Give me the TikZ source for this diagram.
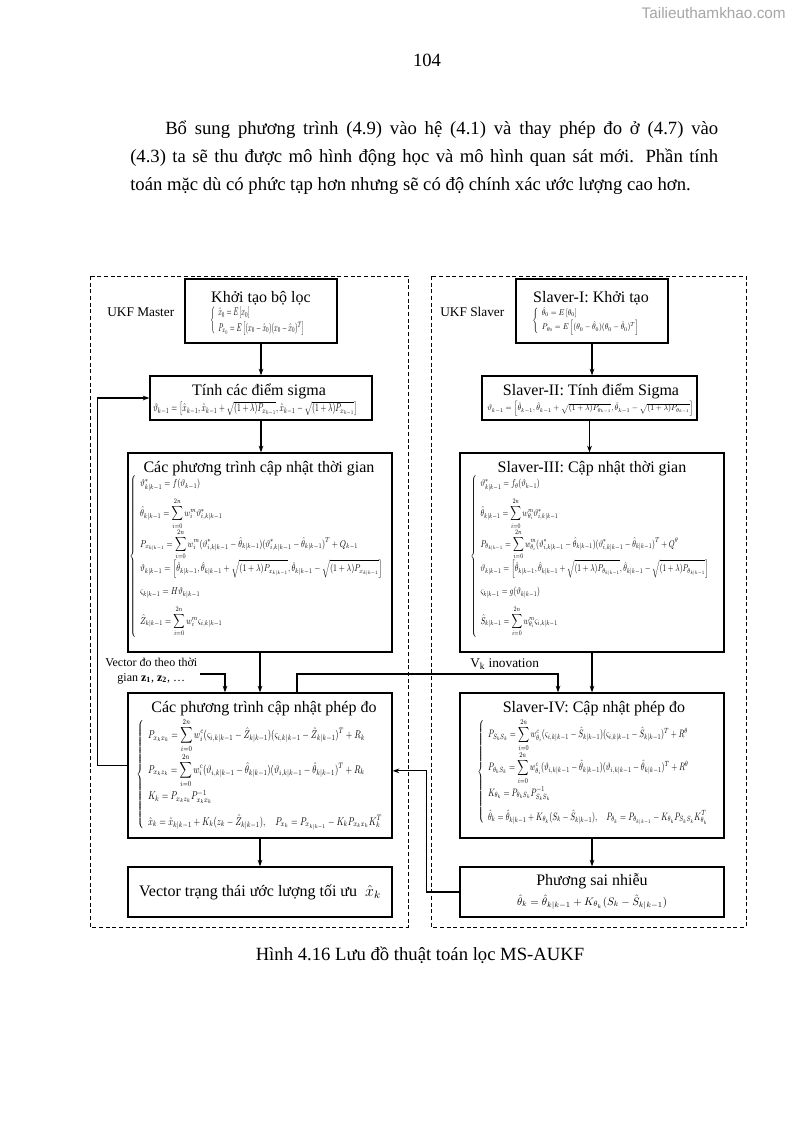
\documentclass[tikz,border=0pt]{standalone}
\usepackage{fontspec}
\setmainfont{Liberation Serif}
\newfontfamily\wmfont{Liberation Sans}
\usepackage{amsmath}
\usepackage{array}
\usepackage{graphicx}
\usetikzlibrary{positioning,fit,arrows.meta}
\newdimen\pxu \pxu=0.75pt
\newcommand\kkm{k|k-1}
\newcommand\dsum{\displaystyle\sum_{i=0}^{2n}}
\newcommand\eqbox[3]{\resizebox*{#1\pxu}{#2\pxu}{$#3$}}
\begin{document}
\begin{tikzpicture}[x=0.75pt, y=-0.75pt,
  box/.style={draw, line width=0.9pt, inner sep=0pt},
  ttl/.style={font=\fontsize{12}{14}\selectfont, inner sep=0pt, anchor=base},
  lbl/.style={font=\fontsize{10}{12}\selectfont, inner sep=0pt, anchor=base west},
  eqn/.style={inner sep=0pt, anchor=north west},
  body/.style={font=\fontsize{14}{21}\selectfont, inner sep=0pt},
  arr/.style={-{Stealth[length=5pt,width=3.5pt]}, line width=0.8pt},
  outer/.style={dash pattern=on 3pt off 2pt, line width=0.6pt}]
\fill[white] (0,0) rectangle (794,1123);
\useasboundingbox (0,0) rectangle (794,1123);

% page text
\node[font=\wmfont\fontsize{11.5}{13}\selectfont, text=gray!70, inner sep=0pt, anchor=base east] (wm) at (786,19) {Tailieuthamkhao.com};
\node[body, anchor=base] (pno) at (427,67) {104};
\node[body, anchor=north west, text width=588*0.75pt, align=justify] (para) at (130,121)
  {\parfillskip=0pt\hspace*{35\pxu}Bổ sung phương trình (4.9) vào hệ (4.1) và thay phép đo ở (4.7) vào\linebreak
   (4.3) ta sẽ thu được mô hình động học và mô hình quan sát mới. Phần tính\linebreak
   toán mặc dù có phức tạp hơn nhưng sẽ có độ chính xác ước lượng cao hơn.};

% khung UKF Master / UKF Slaver
\draw[outer] (90,276) rectangle (408,927);
\draw[outer] (431,276) rectangle (746,927);
\node[lbl] (mst) at (107,316) {UKF Master};
\node[lbl] (slv) at (440,316) {UKF Slaver};

% cot trai
\node[box, fit={(185,279) (337,343)}] (init) {};
\node[ttl] (initT) at (261,302) {Khởi tạo bộ lọc};
\node[eqn] (initE) at (210,306) {\eqbox{98}{29}{\left\{\begin{array}{l}\hat{x}_0=E\left[x_0\right]\\[2pt] P_{x_0}=E\left[(x_0-\hat{x}_0)(x_0-\hat{x}_0)^T\right]\end{array}\right.}};

\node[box, fit={(150,376) (372,420)}] (sig) {};
\node[ttl] (sigT) at (259,395) {Tính các điểm sigma};
\node[eqn] (sigE) at (153,401) {\eqbox{204}{14}{\vartheta_{k-1}=\left[\hat{x}_{k-1},\hat{x}_{k-1}+\sqrt{(1+\lambda)P_{x_{k-1}}},\hat{x}_{k-1}-\sqrt{(1+\lambda)P_{x_{k-1}}}\right]}};

\node[box, fit={(128,453) (392,652)}] (upd) {};
\node[ttl] (updT) at (259,472) {Các phương trình cập nhật thời gian};
\node[eqn] (updE) at (129,475) {\eqbox{258}{162}{\left\{\renewcommand\arraystretch{1.3}\begin{array}{>{\displaystyle}l}
  \vartheta^{*}_{\kkm}=f(\vartheta_{k-1})\\[7pt]
  \hat{\theta}_{\kkm}=\dsum w_i^m\vartheta^{*}_{i,\kkm}\\[7pt]
  P_{x_{\kkm}}=\dsum w_i^m(\vartheta^{*}_{i,\kkm}-\hat{\theta}_{\kkm})(\vartheta^{*}_{i,\kkm}-\hat{\theta}_{\kkm})^T+Q_{k-1}\\[7pt]
  \vartheta_{\kkm}=\left[\hat{\theta}_{\kkm},\hat{\theta}_{\kkm}+\sqrt{(1+\lambda)P_{x_{\kkm}}},\hat{\theta}_{\kkm}-\sqrt{(1+\lambda)P_{x_{\kkm}}}\right]\\[7pt]
  \varsigma_{\kkm}=H\vartheta_{\kkm}\\[7pt]
  \hat{Z}_{\kkm}=\dsum w_i^m\varsigma_{i,\kkm}
  \end{array}\right.}};

\node[box, fit={(128,693) (392,838)}] (meas) {};
\node[ttl] (measT) at (264,712) {Các phương trình cập nhật phép đo};
\node[eqn] (measE) at (136,718) {\eqbox{251}{112}{\left\{\renewcommand\arraystretch{1.3}\begin{array}{>{\displaystyle}l}
  P_{x_kx_k}=\dsum w_i^c(\varsigma_{i,\kkm}-\hat{Z}_{\kkm})(\varsigma_{i,\kkm}-\hat{Z}_{\kkm})^T+R_k\\[7pt]
  P_{x_kz_k}=\dsum w_i^c(\vartheta_{i,\kkm}-\hat{\theta}_{\kkm})(\vartheta_{i,\kkm}-\hat{\theta}_{\kkm})^T+R_k\\[7pt]
  K_k=P_{x_kz_k}P^{-1}_{x_kx_k}\\[7pt]
  \hat{x}_k=\hat{x}_{\kkm}+K_k(z_k-\hat{Z}_{\kkm}),\quad P_{x_k}=P_{x_{\kkm}}-K_kP_{x_kx_k}K_k^T
  \end{array}\right.}};

\node[box, fit={(128,867) (392,917)}] (vect) {};
\node[ttl] (vectT) at (260,896) {Vector trạng thái ước lượng tối ưu\ \ $\hat{x}_k$};

% cot phai
\node[box, fit={(516,279) (668,343)}] (sinit) {};
\node[ttl] (sinitT) at (591,302) {Slaver-I: Khởi tạo};
\node[eqn] (sinitE) at (532,307) {\eqbox{111}{28}{\left\{\begin{array}{l}\hat{\theta}_0=E\left[\theta_0\right]\\[2pt] P_{\theta_0}=E\left[(\theta_0-\hat{\theta}_0)(\theta_0-\hat{\theta}_0)^T\right]\end{array}\right.}};

\node[box, fit={(482,376) (697,420)}] (ssig) {};
\node[ttl] (ssigT) at (591,395) {Slaver-II: Tính điểm Sigma};
\node[eqn] (ssigE) at (487,401) {\eqbox{206}{15}{\vartheta_{k-1}=\left[\hat{\theta}_{k-1},\hat{\theta}_{k-1}+\sqrt{(1+\lambda)P_{\theta_{k-1}}},\hat{\theta}_{k-1}-\sqrt{(1+\lambda)P_{\theta_{k-1}}}\right]}};

\node[box, fit={(460,453) (724,652)}] (supd) {};
\node[ttl] (supdT) at (592,472) {Slaver-III: Cập nhật thời gian};
\node[eqn] (supdE) at (470,475) {\eqbox{243}{162}{\left\{\renewcommand\arraystretch{1.3}\begin{array}{>{\displaystyle}l}
  \vartheta^{*}_{\kkm}=f_{\theta}(\vartheta_{k-1})\\[7pt]
  \hat{\theta}_{\kkm}=\dsum w_{\theta_i}^m\vartheta^{*}_{i,\kkm}\\[7pt]
  P_{\theta_{\kkm}}=\dsum w_{\theta_i}^m(\vartheta^{*}_{i,\kkm}-\hat{\theta}_{\kkm})(\vartheta^{*}_{i,\kkm}-\hat{\theta}_{\kkm})^T+Q^{\theta}\\[7pt]
  \vartheta_{\kkm}=\left[\hat{\theta}_{\kkm},\hat{\theta}_{\kkm}+\sqrt{(1+\lambda)P_{\theta_{\kkm}}},\hat{\theta}_{\kkm}-\sqrt{(1+\lambda)P_{\theta_{\kkm}}}\right]\\[7pt]
  \varsigma_{\kkm}=g(\vartheta_{\kkm})\\[7pt]
  \hat{S}_{\kkm}=\dsum w_{\theta_i}^m\varsigma_{i,\kkm}
  \end{array}\right.}};

\node[box, fit={(460,693) (724,838)}] (smeas) {};
\node[ttl] (smeasT) at (594,712) {Slaver-IV: Cập nhật phép đo};
\node[eqn] (smeasE) at (477,718) {\eqbox{235}{107}{\left\{\renewcommand\arraystretch{1.3}\begin{array}{>{\displaystyle}l}
  P_{S_kS_k}=\dsum w^c_{\theta_i}(\varsigma_{i,\kkm}-\hat{S}_{\kkm})(\varsigma_{i,\kkm}-\hat{S}_{\kkm})^T+R^{\theta}\\[7pt]
  P_{\theta_kS_k}=\dsum w^c_{\theta_i}(\vartheta_{i,\kkm}-\hat{\theta}_{\kkm})(\vartheta_{i,\kkm}-\hat{\theta}_{\kkm})^T+R^{\theta}\\[7pt]
  K_{\theta_k}=P_{\theta_kS_k}P^{-1}_{S_kS_k}\\[7pt]
  \hat{\theta}_k=\hat{\theta}_{\kkm}+K_{\theta_k}(S_k-\hat{S}_{\kkm}),\quad P_{\theta_k}=P_{\theta_{\kkm}}-K_{\theta_k}P_{S_kS_k}K^T_{\theta_k}
  \end{array}\right.}};

\node[box, fit={(460,867) (724,917)}] (noise) {};
\node[ttl] (noiseT) at (592,885) {Phương sai nhiễu};
\node[inner sep=0pt] (noiseE) at (592,902) {\resizebox{150\pxu}{!}{$\hat{\theta}_k=\hat{\theta}_{\kkm}+K_{\theta_k}(S_k-\hat{S}_{\kkm})$}};

% nhan
\node[font=\fontsize{9}{11.25}\selectfont, inner sep=0pt, align=center, anchor=north west] (zlbl) at (105,658)
  {Vector đo theo thời\\ gian $\mathbf{z_1}$, $\mathbf{z_2}$, \dots};
\node[lbl] (vk) at (470,667) {V$_\mathrm{k}$ inovation};

% mui ten
\draw[arr] (init.south) -- (init.south |- sig.north);
\draw[arr] (sig.south) -- (sig.south |- upd.north);
\draw[arr] (upd.south) -- (upd.south |- meas.north);
\draw[arr] (meas.south) -- (meas.south |- vect.north);
\draw[arr] (sinit.south) -- (sinit.south |- ssig.north);
\draw[arr] (ssig.south) -- (ssig.south |- supd.north);
\draw[arr] (supd.south) -- (supd.south |- smeas.north);
\draw[arr] (smeas.south) -- (smeas.south |- noise.north);
\draw[arr] (meas.west) -- ++(-30,0) |- (sig.west);
\draw[arr] (noise.west) -- ++(-33,0) |- ([yshift=-4pt]meas.east);
\coordinate (zL) at (200,674);
\coordinate (zC) at (225,674);
\draw[arr] (zL) -- (zC) -- (zC |- meas.north);
\coordinate (vkL) at (297,674);
\coordinate (vkR) at (558,674);
\draw[arr] (vkL |- meas.north) -- (vkL) -- (vkR) -- (vkR |- smeas.north);

\node[body, anchor=base] (cap) at (420,960) {Hình 4.16 Lưu đồ thuật toán lọc MS-AUKF};
\end{tikzpicture}
\end{document}
